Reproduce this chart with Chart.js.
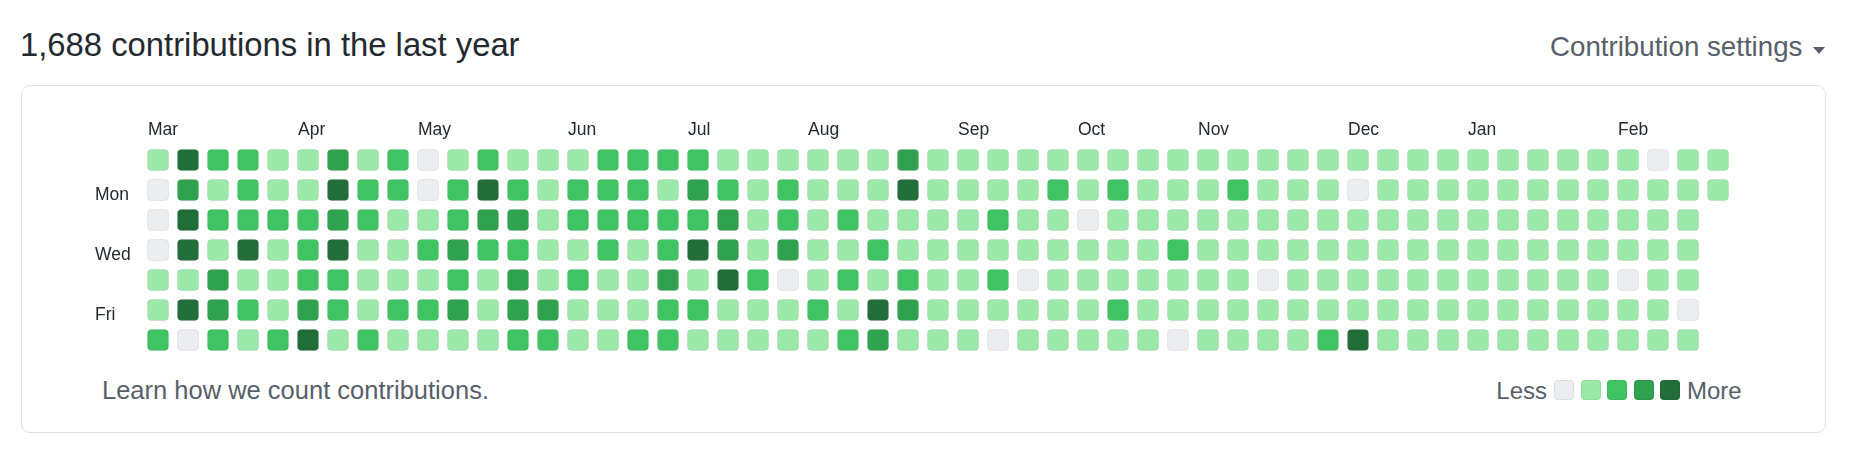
<!DOCTYPE html>
<html>
<head>
<meta charset="utf-8">
<script src="https://cdn.jsdelivr.net/npm/chart.js@4"></script>
<style>
  body { margin: 0; background: #fff; font-family: "Liberation Sans", Arial, Helvetica, sans-serif; }
  #wrap { position: relative; width: 1856px; height: 464px; overflow: hidden; }
  .abs { position: absolute; white-space: nowrap; line-height: 1; }
  #title { left: 20px; top: 29px; font-size: 32.8px; color: #24292f; }
  #settings { left: 1550px; top: 33px; font-size: 27.7px; color: #57606a; }
  #caret { left: 1813px; top: 47px; width: 0; height: 0;
    border-left: 6px solid transparent; border-right: 6px solid transparent; border-top: 7px solid #57606a; }
  #box { left: 21px; top: 85px; width: 1803px; height: 346px; border: 1.5px solid #dde1e6; border-radius: 9px; }
  #learn { left: 102px; top: 378px; font-size: 25.5px; color: #57606a; }
  #less { right: 309px; top: 379px; font-size: 24px; color: #57606a; }
  #more { left: 1687px; top: 379px; font-size: 24px; color: #57606a; }
  .sq { position: absolute; top: 380px; width: 20px; height: 20px; border-radius: 4px;
    box-shadow: inset 0 0 0 1px rgba(27,31,35,0.07); }
  #chart { position: absolute; left: 0; top: 0; }
</style>
</head>
<body>
<div id="wrap">
  <div id="box" class="abs"></div>
  <div id="title" class="abs">1,688 contributions in the last year</div>
  <div id="settings" class="abs">Contribution settings</div>
  <div id="caret" class="abs"></div>
  <div id="learn" class="abs">Learn how we count contributions.</div>
  <div id="less" class="abs">Less</div>
  <div id="more" class="abs">More</div>
  <canvas id="chart" width="1856" height="464"></canvas>
</div>
<script>
// contribution levels (0-4), one array per weekday, one entry per week
const sun = [1,4,2,2,1,1,3,1,2,0,1,2, 1,1,1,2,2,2,2,1,1,1,1,1,1,3, 1,1,1,1,1,1,1,1,1,1,1,1,1,1, 1,1,1,1,1,1,1,1,1,1,0,1,1];
const mon = [0,3,1,2,1,1,4,2,2,0,2,4, 2,1,2,2,2,1,3,2,1,2,1,1,1,4, 1,1,1,1,2,1,2,1,1,1,2,1,1,1, 0,1,1,1,1,1,1,1,1,1,1,1,1];
const tue = [0,4,2,2,2,2,3,2,1,1,2,3, 3,1,2,2,2,2,2,3,1,2,1,2,1,1, 1,1,2,1,1,0,1,1,1,1,1,1,1,1, 1,1,1,1,1,1,1,1,1,1,1,1];
const wed = [0,4,1,4,1,2,4,1,1,2,3,2, 2,1,1,2,1,2,4,3,1,3,1,1,2,1, 1,1,1,1,1,1,1,1,2,1,1,1,1,1, 1,1,1,1,1,1,1,1,1,1,1,1];
const thu = [1,1,3,1,1,2,2,1,1,1,2,1, 3,1,2,1,1,3,1,4,2,0,1,2,1,2, 1,1,2,0,1,1,1,1,1,1,1,0,1,1, 1,1,1,1,1,1,1,1,1,0,1,1];
const fri = [1,4,3,2,1,3,2,1,2,2,3,1, 3,3,1,1,1,2,2,1,1,1,2,1,4,3, 1,1,1,1,1,1,2,1,1,1,1,1,1,1, 1,1,1,1,1,1,1,1,1,1,1,0];
const sat = [2,0,2,1,2,4,1,2,1,1,1,1, 2,2,1,1,2,2,1,1,1,1,1,2,3,1, 1,1,0,1,1,1,1,1,0,1,1,1,1,2, 4,1,1,1,1,1,1,1,1,1,1,1];

const monthCols = [0, 5, 9, 14, 18, 22, 27, 31, 35, 40, 44, 49];
const monthLabels = ["Mar","Apr","May","Jun","Jul","Aug","Sep","Oct","Nov","Dec","Jan","Feb"];
const dayRows = [1, 3, 5];
const dayLabels = ["Mon", "Wed", "Fri"];

const levelColors = ["#ebedf0", "#9be9a8", "#40c463", "#30a14e", "#216e39"];

// build one rounded-square image per level, used as point style
function cellImage(color, size) {
  const c = document.createElement("canvas");
  c.width = size; c.height = size;
  const g = c.getContext("2d");
  g.beginPath();
  g.roundRect(0.5, 0.5, size - 1, size - 1, 4);
  g.fillStyle = color;
  g.fill();
  g.strokeStyle = "rgba(27,31,35,0.07)";
  g.lineWidth = 1;
  g.stroke();
  return c;
}
const cellImgs = levelColors.map(c => cellImage(c, 22));

// legend squares
const wrap = document.getElementById("wrap");
levelColors.forEach((c, i) => {
  const d = document.createElement("div");
  d.className = "sq";
  d.style.left = (1554 + i * 26.5) + "px";
  d.style.background = c;
  wrap.appendChild(d);
});

const days = [sun, mon, tue, wed, thu, fri, sat];
const points = [];
days.forEach((row, d) => {
  row.forEach((v, w) => points.push({ x: w, y: d, v }));
});

const tickFont = { family: "'Liberation Sans', Arial, sans-serif", size: 17.5 };

new Chart(document.getElementById("chart"), {
  type: "scatter",
  data: {
    datasets: [{
      data: points,
      pointStyle: ctx => cellImgs[ctx.raw ? ctx.raw.v : 0],
      pointRadius: 11,
      pointHoverRadius: 11
    }]
  },
  options: {
    responsive: false,
    animation: false,
    events: [],
    layout: { padding: { left: 95, right: 123, top: 105, bottom: 109 } },
    plugins: { legend: { display: false }, tooltip: { enabled: false } },
    scales: {
      x: {
        type: "linear",
        position: "top",
        min: -0.5,
        max: 52.5,
        grid: { display: false, drawTicks: false },
        border: { display: false },
        afterBuildTicks: s => { s.ticks = monthCols.map(v => ({ value: v })); },
        afterFit: s => { s.height = 40; },
        ticks: {
          autoSkip: false,
          maxRotation: 0,
          align: "start",
          labelOffset: -10,
          padding: 4.5,
          color: "#24292f",
          font: tickFont,
          callback: v => monthLabels[monthCols.indexOf(v)]
        }
      },
      y: {
        type: "linear",
        reverse: true,
        min: -0.5,
        max: 6.5,
        grid: { display: false, drawTicks: false },
        border: { display: false },
        afterBuildTicks: s => { s.ticks = dayRows.map(v => ({ value: v })); },
        afterFit: s => { s.width = 48; },
        ticks: {
          crossAlign: "far",
          labelOffset: 5,
          color: "#24292f",
          font: tickFont,
          callback: v => dayLabels[dayRows.indexOf(v)]
        }
      }
    }
  }
});
</script>
</body>
</html>
